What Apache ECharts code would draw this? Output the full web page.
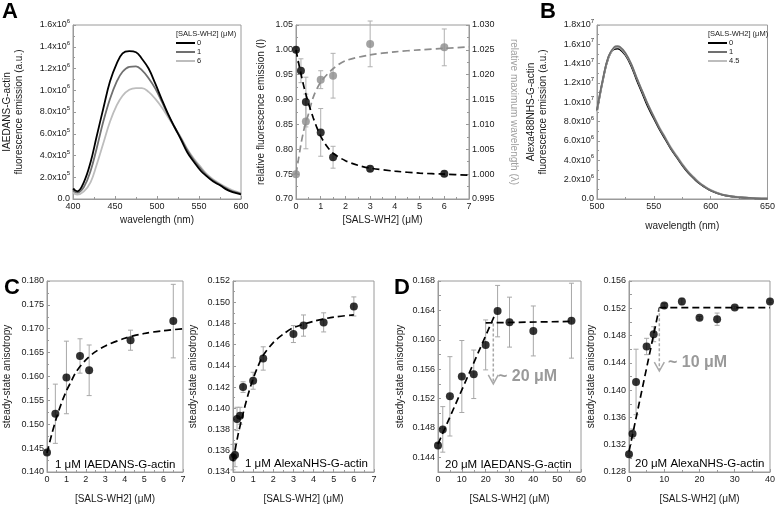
<!DOCTYPE html>
<html><head><meta charset="utf-8">
<script src="https://cdn.jsdelivr.net/npm/echarts@6/dist/echarts.min.js"></script>
<style>html,body{margin:0;padding:0;background:#fff}#c{width:778px;height:506px}</style>
</head><body><div id="c"></div>
<script>
// ---------- Panel A (left): IAEDANS spectra, units of 1e5 ----------
const wlA = [400,405,413,421,428,436,444,452,459,467,475,482,490,498,506,513,521,529,536,544,552,559,567,575,583,590,600];
const specA_0 = [0.95,0.7,1.56,3.4,5.7,8.3,10.8,12.45,13.4,13.6,13.5,12.9,12.0,10.6,9.1,7.85,6.6,5.4,4.3,3.4,2.6,2.1,1.6,1.26,0.86,0.64,0.43];
const specA_1 = [0.8,0.58,1.1,2.6,4.6,7.1,9.2,10.8,11.7,12.15,12.2,11.85,11.1,10.15,8.9,7.75,6.6,5.5,4.5,3.55,2.8,2.2,1.7,1.3,0.95,0.7,0.5];
const specA_6 = [0.58,0.4,0.7,1.56,3.1,5.1,7.1,8.6,9.5,10.05,10.2,10.2,9.85,9.2,8.4,7.55,6.6,5.6,4.6,3.7,2.95,2.3,1.8,1.4,1.05,0.8,0.55];

// ---------- Panel A (right) ----------
const relX = [0,0.2,0.4,1,1.5,3,6];
const relI = [1.000,0.958,0.895,0.834,0.784,0.761,0.751];
const relIErr = [0.004,0.024,0.05,0.048,0.022,0.005,0.005];
const lamX = [0,0.4,1,1.5,3,6];
const lamRel = [1.000,1.0106,1.0190,1.0198,1.0262,1.0255];
const lamErr = [0,0.0055,0.0018,0.0045,0.0046,0.0037];
const fitIX = [0,0.1,0.2,0.3,0.4,0.5,0.7,0.85,1.0,1.25,1.5,2,2.5,3,4,5,6,7];
const fitI = [1.000,0.975,0.952,0.930,0.911,0.893,0.863,0.843,0.826,0.806,0.792,0.777,0.768,0.762,0.756,0.752,0.750,0.748];
const fitLX = [0,0.1,0.2,0.3,0.4,0.5,0.7,1.0,1.5,2,3,4,5,6,7];
const fitL = [1.000,1.003,1.006,1.0085,1.0105,1.012,1.0155,1.0185,1.0212,1.0228,1.0240,1.0246,1.0250,1.0253,1.0256];

// ---------- Panel B: Alexa488 spectra, units of 1e6 ----------
const wlB = [500,505,510,515,518,520,525,530,535,540,545,550,555,560,565,570,575,580,585,590,595,600,610,620,630,640,650];
const specB_0 = [9.1,12.2,14.6,15.5,15.55,15.5,14.9,13.8,12.3,10.9,9.5,8.35,7.2,6.2,5.2,4.35,3.5,2.75,2.15,1.62,1.22,0.88,0.44,0.24,0.13,0.07,0.03];
const specB_1 = [9.2,12.3,14.7,15.7,15.8,15.75,15.1,14.0,12.5,11.1,9.7,8.5,7.3,6.3,5.25,4.4,3.55,2.8,2.2,1.65,1.25,0.9,0.45,0.25,0.14,0.07,0.03];
const specB_45 = [9.0,12.2,14.6,15.6,15.7,15.65,15.0,13.95,12.5,11.1,9.75,8.55,7.4,6.4,5.35,4.5,3.65,2.9,2.28,1.72,1.3,0.95,0.48,0.27,0.15,0.08,0.04];

// ---------- Panel C ----------
const cLX = [0,0.43,1.0,1.7,2.17,4.3,6.5];
const cLY = [0.1441,0.1522,0.1598,0.1643,0.1613,0.1676,0.1716];
const cLE = [0.0004,0.0062,0.0076,0.0036,0.0053,0.0021,0.0077];
const cLFitX = [0,0.25,0.5,0.75,1,1.25,1.5,2,2.5,3,4,5,6,7];
const cLFitY = [0.1440,0.1480,0.1515,0.1545,0.1570,0.1590,0.1610,0.1635,0.1652,0.1664,0.1680,0.1690,0.1696,0.1700];
const cRX = [0,0.1,0.2,0.35,0.5,1,1.5,3,3.5,4.5,6];
const cRY = [0.1354,0.1356,0.1390,0.1393,0.1420,0.1426,0.1447,0.1470,0.1478,0.1481,0.1496];
const cRE = [0.0012,0.0011,0.0011,0.0008,0.0005,0.0008,0.0011,0.0008,0.0010,0.0009,0.0009];
const cRFitX = [0,0.25,0.5,0.75,1,1.25,1.5,2,2.5,3,4,5,6];
const cRFitY = [0.1350,0.1375,0.1395,0.1413,0.1428,0.1440,0.1450,0.1462,0.1470,0.1476,0.1482,0.1486,0.1488];

// ---------- Panel D ----------
const dLX = [0,2,5,10,15,20,25,30,40,56];
const dLY = [0.1456,0.1478,0.1523,0.1550,0.1553,0.1593,0.1639,0.1624,0.1612,0.1626];
const dLE = [0.0003,0.0031,0.0054,0.0049,0.0033,0.0034,0.0035,0.0034,0.0034,0.0051];
const dLFitRiseX = [0,24], dLFitRiseY = [0.1458,0.1635];
const dLFitFlatX = [20,57], dLFitFlatY = [0.1623,0.1625];
const dLArrow = [23.2,0.1622,0.1540];
const dRX = [0,1,2,5,7,10,15,20,25,30,40];
const dRY = [0.1306,0.1336,0.1412,0.1464,0.1482,0.1524,0.1530,0.1506,0.1504,0.1521,0.1530];
const dRE = [0.0002,0.0007,0.0048,0.0012,0.0011,0.0003,0.0005,0.0002,0.0009,0.0002,0.0002];
const dRFitRiseX = [0,8.6], dRFitRiseY = [0.1310,0.1521];
const dRFitFlatX = [8.6,40], dRFitFlatY = [0.1521,0.1521];
const dRArrow = [8.6,0.1520,0.1428];

const legendConc = ['0','1','6'];
const legendConcB = ['0','1','4.5'];

// ---------- helpers ----------
const zip = (xs, ys, es) => xs.map((x,i)=> es ? [x, ys[i], es[i]] : [x, ys[i]]);
const AX = '#9a9a9a', TXT = '#1a1a1a', FONT = 'Liberation Sans, Arial, sans-serif';
function sci(v){
  if (Math.abs(v) < 1e-9) return '0.0';
  const e = Math.floor(Math.log10(v) + 1e-9);
  const m = v / Math.pow(10, e);
  return '{m|' + m.toFixed(1) + 'x10}{e|' + e + '}';
}
const sciRich = {m:{fontSize:9,color:TXT,fontFamily:FONT}, e:{fontSize:6,color:TXT,fontFamily:FONT,verticalAlign:'top',padding:[0,0,7,0]}};
function axis(grid, min, max, interval, name, o){
  return Object.assign({
    type:'value', gridIndex:grid, min, max, interval, name, nameLocation:'middle', nameGap:15,
    nameTextStyle:{fontSize:10,color:TXT,fontFamily:FONT,lineHeight:12},
    axisLine:{show:true,onZero:false,lineStyle:{color:AX,width:1}},
    axisTick:{show:true,inside:true,length:3,lineStyle:{color:AX}},
    minorTick:{show:true,splitNumber:2,length:2,lineStyle:{color:AX}},
    splitLine:{show:false},
    axisLabel:{fontSize:9,color:TXT,fontFamily:FONT,margin:3}
  }, o||{});
}
function errSeries(xi, yi, data, color){
  return {type:'custom', xAxisIndex:xi, yAxisIndex:yi, data, z:1, silent:true, encode:{x:0,y:1},
    renderItem:(p, api)=>{
      const x=api.value(0), y=api.value(1), e=api.value(2);
      const a=api.coord([x,y+e]), b=api.coord([x,y-e]), w=2.5;
      const st={stroke:color,lineWidth:1};
      return {type:'group', children:[
        {type:'line', shape:{x1:a[0],y1:a[1],x2:b[0],y2:b[1]}, style:st},
        {type:'line', shape:{x1:a[0]-w,y1:a[1],x2:a[0]+w,y2:a[1]}, style:st},
        {type:'line', shape:{x1:b[0]-w,y1:b[1],x2:b[0]+w,y2:b[1]}, style:st}]};
    }};
}
function pts(xi, yi, data, color){
  return {type:'scatter', xAxisIndex:xi, yAxisIndex:yi, data, symbolSize:8, itemStyle:{color}, z:3, silent:true};
}
function fit(xi, yi, data, color, smooth){
  return {type:'line', xAxisIndex:xi, yAxisIndex:yi, data, showSymbol:false, symbol:'none', smooth:smooth?0.3:false,
    lineStyle:{color, width:1.7, type:[7,4]}, z:2, silent:true};
}
function spec(xi, yi, name, data, color){
  return {type:'line', name, xAxisIndex:xi, yAxisIndex:yi, data, showSymbol:false, symbol:'none', smooth:0.4, color,
    lineStyle:{color, width:1.8}, z:2, silent:true};
}
function arrow(xi, yi, a){
  return {type:'custom', xAxisIndex:xi, yAxisIndex:yi, data:[a], silent:true, z:4, encode:{x:0,y:1},
    renderItem:(p, api)=>{
      const t=api.coord([api.value(0),api.value(1)]), b=api.coord([api.value(0),api.value(2)]);
      return {type:'group', children:[
        {type:'line', shape:{x1:t[0],y1:t[1],x2:b[0],y2:b[1]-1}, style:{stroke:'#a8a8a8',lineWidth:1.5,lineDash:[3,2]}},
        {type:'polyline', shape:{points:[[b[0]-5,b[1]-9],[b[0],b[1]],[b[0]+5,b[1]-9]]}, style:{stroke:'#a8a8a8',lineWidth:1.5,fill:null}}]};
    }};
}
const gridBase = {show:true, borderColor:AX, borderWidth:1, containLabel:false};
const legendBase = {orient:'vertical', icon:'rect', itemWidth:19, itemHeight:2, itemGap:1,
  textStyle:{fontSize:7.5,color:TXT,fontFamily:FONT,lineHeight:8,padding:[0,0,0,-3]}, selectedMode:false, padding:0};

const option = {
  animation:false,
  textStyle:{fontFamily:FONT},
  grid:[
    Object.assign({left:68, top:25, width:173, height:174}, gridBase),
    Object.assign({left:296, top:25, width:173, height:174}, gridBase),
    Object.assign({left:597, top:25, width:172, height:174}, gridBase),
    Object.assign({left:43, top:281, width:140, height:198}, gridBase),
    Object.assign({left:233, top:281, width:141, height:198}, gridBase),
    Object.assign({left:438, top:281, width:143, height:198}, gridBase),
    Object.assign({left:629, top:281, width:141, height:198}, gridBase)
  ],
  xAxis:[
    axis(0, 400, 600, 50, 'wavelength (nm)', {nameGap:15}),
    axis(1, 0, 7, 1, '[SALS-WH2] (\u03bcM)', {nameGap:15}),
    axis(2, 500, 650, 50, 'wavelength (nm)', {nameGap:21}),
    axis(3, 0, 7, 1, '[SALS-WH2] (\u03bcM)', {nameGap:21}),
    axis(4, 0, 7, 1, '[SALS-WH2] (\u03bcM)', {nameGap:21}),
    axis(5, 0, 60, 10, '[SALS-WH2] (\u03bcM)', {nameGap:21}),
    axis(6, 0, 40, 10, '[SALS-WH2] (\u03bcM)', {nameGap:21})
  ],
  yAxis:[
    axis(0, 0, 16, 2, 'IAEDANS-G-actin\nfluorescence emission (a.u.)', {nameGap:48,
      axisLabel:{fontSize:9,color:TXT,margin:3,formatter:v=>sci(v*1e5),rich:sciRich}}),
    axis(1, 0.70, 1.05, 0.05, 'relative fluorescence emission (I)', {nameGap:29,
      axisLabel:{fontSize:9,color:TXT,margin:3,formatter:v=>v.toFixed(2)}}),
    axis(1, 0.995, 1.030, 0.005, 'relative maximum wavelength (\u03bb)', {position:'right', nameGap:40, nameRotate:-90,
      nameTextStyle:{fontSize:10,color:'#a0a0a0',fontFamily:FONT},
      axisLabel:{fontSize:9,color:TXT,margin:3,formatter:v=>v.toFixed(3)}}),
    axis(2, 0, 18, 2, 'Alexa488NHS-G-actin\nfluorescence emission (a.u.)', {nameGap:48,
      axisLabel:{fontSize:9,color:TXT,margin:3,formatter:v=>sci(v*1e6),rich:sciRich}}),
    axis(3, 0.140, 0.180, 0.005, 'steady-state anisotropy', {nameGap:34,
      axisLabel:{fontSize:9,color:TXT,margin:3,formatter:v=>v.toFixed(3)}}),
    axis(4, 0.134, 0.152, 0.002, 'steady-state anisotropy', {nameGap:34,
      axisLabel:{fontSize:9,color:TXT,margin:3,formatter:v=>v.toFixed(3)}}),
    axis(5, 0.142, 0.168, 0.002, 'steady-state anisotropy', {nameGap:32, minorTick:{show:false},
      axisLabel:{fontSize:9,color:TXT,margin:3,formatter:v=>(Math.round(v*1000)%4===0?v.toFixed(3):'')}}),
    axis(6, 0.128, 0.156, 0.002, 'steady-state anisotropy', {nameGap:32, minorTick:{show:false},
      axisLabel:{fontSize:9,color:TXT,margin:3,formatter:v=>(Math.round(v*1000)%4===0?v.toFixed(3):'')}})
  ],
  legend:[
    Object.assign({left:176, top:39, data:legendConc}, legendBase),
    Object.assign({left:708, top:39, data:legendConcB}, legendBase)
  ],
  graphic:[
    {type:'text', left:2, top:1, style:{text:'A', font:'bold 22px '+FONT, fill:'#000'}},
    {type:'text', left:540, top:1, style:{text:'B', font:'bold 22px '+FONT, fill:'#000'}},
    {type:'text', left:4, top:277, style:{text:'C', font:'bold 22px '+FONT, fill:'#000'}},
    {type:'text', left:394, top:277, style:{text:'D', font:'bold 22px '+FONT, fill:'#000'}},
    {type:'text', left:176, top:30, style:{text:'[SALS-WH2] (\u03bcM)', font:'7.5px '+FONT, fill:TXT}},
    {type:'text', left:708, top:30, style:{text:'[SALS-WH2] (\u03bcM)', font:'7.5px '+FONT, fill:TXT}},
    {type:'text', left:55, top:459, style:{text:'1 \u03bcM IAEDANS-G-actin', font:'11.5px '+FONT, fill:'#000'}},
    {type:'text', left:245, top:458, style:{text:'1 \u03bcM AlexaNHS-G-actin', font:'11.5px '+FONT, fill:'#000'}},
    {type:'text', left:445, top:459, style:{text:'20 \u03bcM IAEDANS-G-actin', font:'11.5px '+FONT, fill:'#000'}},
    {type:'text', left:635, top:458, style:{text:'20 \u03bcM AlexaNHS-G-actin', font:'11.5px '+FONT, fill:'#000'}},
    {type:'text', left:498, top:369, style:{text:'~ 20 \u03bcM', font:'bold 16px '+FONT, fill:'#9a9a9a'}},
    {type:'text', left:668, top:355, style:{text:'~ 10 \u03bcM', font:'bold 16px '+FONT, fill:'#9a9a9a'}}
  ],
  series:[
    spec(0,0,'6', zip(wlA, specA_6), '#bdbdbd'),
    spec(0,0,'1', zip(wlA, specA_1), '#707070'),
    spec(0,0,'0', zip(wlA, specA_0), '#000000'),

    fit(1,2, zip(fitLX, fitL), '#8c8c8c', true),
    fit(1,1, zip(fitIX, fitI), '#000000', true),
    errSeries(1,2, zip(lamX, lamRel, lamErr), '#b0b0b0'),
    errSeries(1,1, zip(relX, relI, relIErr), '#b0b0b0'),
    pts(1,2, zip(lamX, lamRel), '#8c8c8c'),
    pts(1,1, zip(relX, relI), '#000000'),

    spec(2,3,'0', zip(wlB, specB_0), '#000000'),
    spec(2,3,'4.5', zip(wlB, specB_45), '#bdbdbd'),
    spec(2,3,'1', zip(wlB, specB_1), '#707070'),

    fit(3,4, zip(cLFitX, cLFitY), '#000', true),
    errSeries(3,4, zip(cLX, cLY, cLE), '#a8a8a8'),
    pts(3,4, zip(cLX, cLY), '#000'),

    fit(4,5, zip(cRFitX, cRFitY), '#000', true),
    errSeries(4,5, zip(cRX, cRY, cRE), '#a8a8a8'),
    pts(4,5, zip(cRX, cRY), '#000'),

    fit(5,6, zip(dLFitRiseX, dLFitRiseY), '#000', false),
    fit(5,6, zip(dLFitFlatX, dLFitFlatY), '#000', false),
    errSeries(5,6, zip(dLX, dLY, dLE), '#a8a8a8'),
    pts(5,6, zip(dLX, dLY), '#000'),
    arrow(5,6, dLArrow),

    fit(6,7, zip(dRFitRiseX, dRFitRiseY), '#000', false),
    fit(6,7, zip(dRFitFlatX, dRFitFlatY), '#000', false),
    errSeries(6,7, zip(dRX, dRY, dRE), '#a8a8a8'),
    pts(6,7, zip(dRX, dRY), '#000'),
    arrow(6,7, dRArrow)
  ]
};
const chart = echarts.init(document.getElementById('c'), null, {renderer:'canvas'});
chart.setOption(option);
</script></body></html>
